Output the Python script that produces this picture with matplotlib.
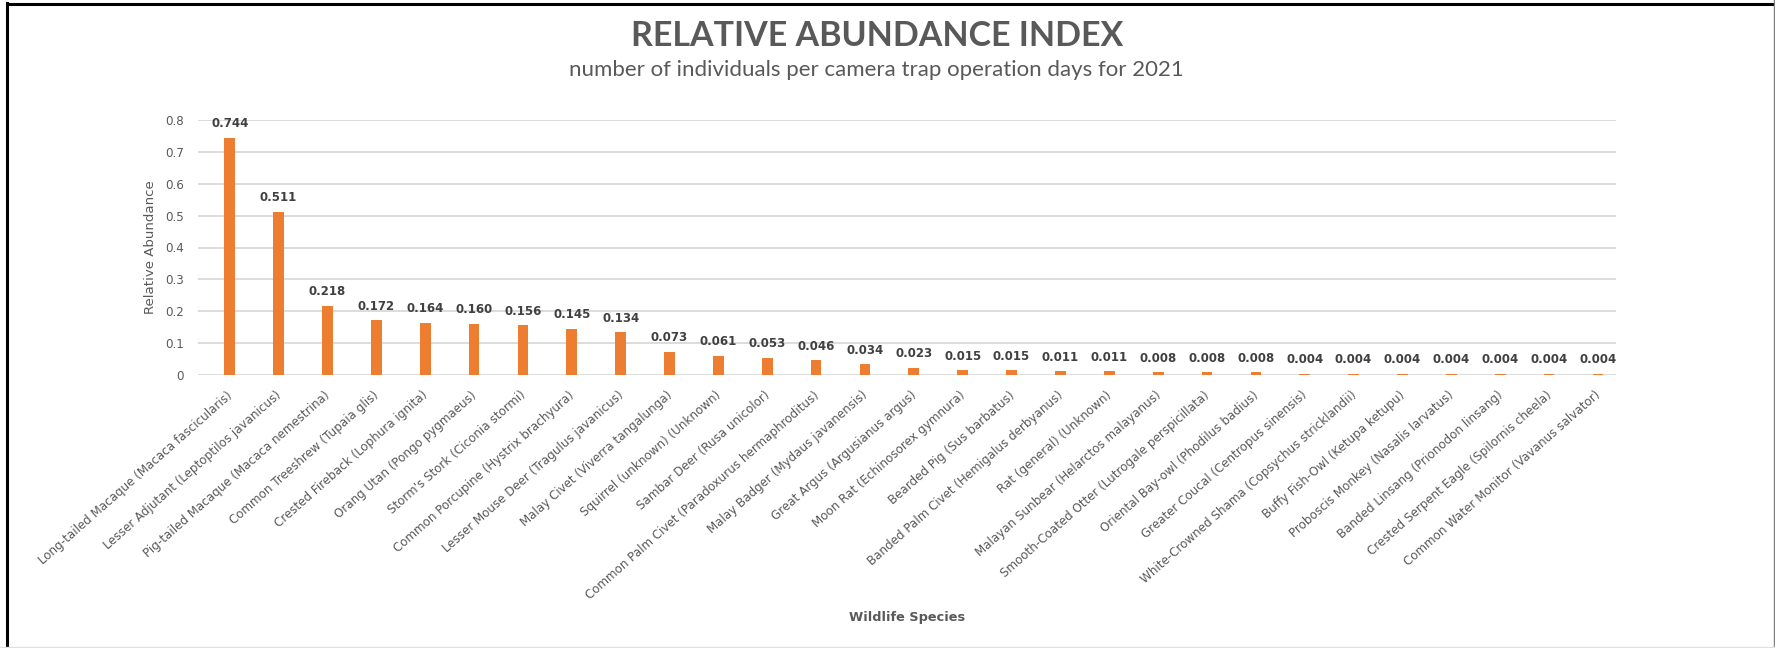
import numpy as np
import matplotlib
matplotlib.use("Agg")
import matplotlib.pyplot as plt
import matplotlib.transforms as mtransforms
from matplotlib.lines import Line2D

species = [
    "Long-tailed Macaque (Macaca fascicularis)",
    "Lesser Adjutant (Leptoptilos javanicus)",
    "Pig-tailed Macaque (Macaca nemestrina)",
    "Common Treeshrew (Tupaia glis)",
    "Crested Fireback (Lophura ignita)",
    "Orang Utan (Pongo pygmaeus)",
    "Storm's Stork (Ciconia stormi)",
    "Common Porcupine (Hystrix brachyura)",
    "Lesser Mouse Deer (Tragulus javanicus)",
    "Malay Civet (Viverra tangalunga)",
    "Squirrel (unknown) (Unknown)",
    "Sambar Deer (Rusa unicolor)",
    "Common Palm Civet (Paradoxurus hermaphroditus)",
    "Malay Badger (Mydaus javanensis)",
    "Great Argus (Argusianus argus)",
    "Moon Rat (Echinosorex gymnura)",
    "Bearded Pig (Sus barbatus)",
    "Banded Palm Civet (Hemigalus derbyanus)",
    "Rat (general) (Unknown)",
    "Malayan Sunbear (Helarctos malayanus)",
    "Smooth-Coated Otter (Lutrogale perspicillata)",
    "Oriental Bay-owl (Phodilus badius)",
    "Greater Coucal (Centropus sinensis)",
    "White-Crowned Shama (Copsychus stricklandii)",
    "Buffy Fish-Owl (Ketupa ketupu)",
    "Proboscis Monkey (Nasalis larvatus)",
    "Banded Linsang (Prionodon linsang)",
    "Crested Serpent Eagle (Spilornis cheela)",
    "Common Water Monitor (Vavanus salvator)",
]
rai = [0.744, 0.511, 0.218, 0.172, 0.164, 0.160, 0.156, 0.145, 0.134,
       0.073, 0.061, 0.053, 0.046, 0.034, 0.023, 0.015, 0.015, 0.011,
       0.011, 0.008, 0.008, 0.008, 0.004, 0.004, 0.004, 0.004, 0.004,
       0.004, 0.004]
yticks = [0, 0.1, 0.2, 0.3, 0.4, 0.5, 0.6, 0.7, 0.8]
ytick_labels = ["0", "0.1", "0.2", "0.3", "0.4", "0.5", "0.6", "0.7", "0.8"]

orange = "#ED7D31"
grey = "#595959"
dark = "#404040"
grid = "#D9D9D9"
body_font = ["DejaVu Sans"]
head_font = ["Lato", "DejaVu Sans"]

W, H = 1775, 648
fig = plt.figure(figsize=(W / 100, H / 100), dpi=100)
ax = fig.add_axes([198 / W, 1 - 375 / H, (1616 - 198) / W, (375 - 120) / H])

x = np.arange(len(species))
ax.bar(x, rai, width=0.22, color=orange, zorder=3)
ax.set_xlim(-0.65, 28.37)
ax.set_ylim(0, 0.8)

ax.set_yticks(yticks)
ax.set_yticklabels(ytick_labels, fontfamily=body_font, fontsize=8.6, color=grey)
ax.yaxis.grid(True, color=grid, linewidth=1.3, zorder=0)
ax.tick_params(axis="both", length=0)
ax.tick_params(axis="y", pad=10)
ax.tick_params(axis="x", pad=0)
for s in ax.spines.values():
    s.set_visible(False)

# slanted category labels, ending just under each bar
ax.set_xticks(x)
ax.set_xticklabels(species, rotation=41.5, ha="right", va="center",
                   rotation_mode="anchor", fontfamily=body_font,
                   fontsize=8.6, color=grey)
shift = mtransforms.ScaledTranslation(1 / 100, -18.5 / 100, fig.dpi_scale_trans)
for lab in ax.get_xticklabels():
    lab.set_transform(lab.get_transform() + shift)

# value labels above bars
for xi, v in zip(x, rai):
    ax.annotate(f"{v:.3f}", (xi, v), xytext=(0, 5.5), textcoords="offset points",
                ha="center", va="bottom", fontfamily=body_font, fontsize=8.5,
                fontweight="bold", color=dark, zorder=4)

ax.set_ylabel("Relative Abundance", fontfamily=body_font, fontsize=9.6,
              color=grey, labelpad=6)

fig.text(877 / W, 1 - 36 / H, "RELATIVE ABUNDANCE INDEX", ha="center",
         va="center", fontfamily=head_font, fontsize=24.5, fontweight="bold",
         color=grey)
fig.text(876 / W, 1 - 70 / H,
         "number of individuals per camera trap operation days for 2021",
         ha="center", va="center", fontfamily=head_font, fontsize=16,
         color=grey)
fig.text(907 / W, 1 - 618 / H, "Wildlife Species", ha="center", va="center",
         fontfamily=body_font, fontsize=9.3, fontweight="bold", color=grey)

# outer frame
fig.add_artist(Line2D([7 / W, 7 / W], [0, 1 - 3 / H], color="black",
                      linewidth=2.2, transform=fig.transFigure))
fig.add_artist(Line2D([7 / W, 1], [1 - 3.5 / H, 1 - 3.5 / H], color="black",
                      linewidth=2.2, transform=fig.transFigure))
fig.add_artist(Line2D([1 - 1 / W, 1 - 1 / W], [0, 1], color="#808080",
                      linewidth=1, transform=fig.transFigure))
fig.add_artist(Line2D([0, 1], [0.6 / H, 0.6 / H], color="#E0E0E0",
                      linewidth=1, transform=fig.transFigure))

fig.savefig("out.png", dpi=100, facecolor="white")
